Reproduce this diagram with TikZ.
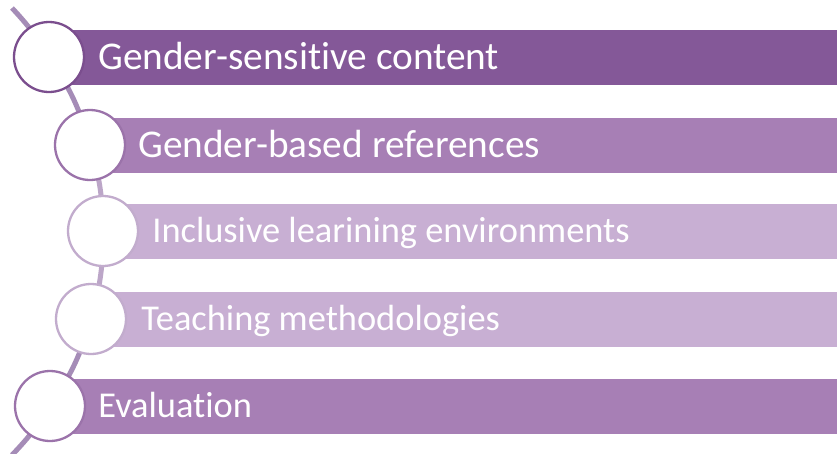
\documentclass[tikz,border=0pt]{standalone}
\usepackage{fontspec}
\setmainfont{Carlito}[Ligatures=NoCommon]
\usetikzlibrary{positioning}
\definecolor{barDark}{RGB}{132,88,152}
\definecolor{barMid}{RGB}{167,127,181}
\definecolor{barLight}{RGB}{200,175,211}
\definecolor{rimDark}{RGB}{123,78,142}
\definecolor{rimMid}{RGB}{155,115,170}
\definecolor{rimLight}{RGB}{194,172,205}
\definecolor{spineDark}{RGB}{165,140,183}
\definecolor{spineLight}{RGB}{188,166,200}
\tikzset{
  stepcircle/.style={
    circle,
    draw,
    fill=white,
    line width=2.3pt,
    minimum size=70pt,
    inner sep=0pt
  },
  bar/.style={
    rectangle,
    anchor=west,
    minimum height=55pt,
    inner sep=0pt
  },
  itemtext/.style={
    text=white,
    inner sep=0pt,
    text depth=0pt,
    text height=25pt,
    font=\fontsize{39.3}{41}\selectfont
  },
  smalltext/.style={
    itemtext,
    text height=23.5pt,
    font=\fontsize{36.4}{38}\selectfont
  },
  spine/.style={
    line width=5pt
  }
}

\begin{document}
\begin{tikzpicture}[x=1pt, y=-1pt]
        \fill[white] (0,0) rectangle (837,453);
        \useasboundingbox (0,0) rectangle (837,453);

        % points on the arc
        \coordinate (top) at (12,8);
        \coordinate (p1) at (49,57);
        \coordinate (p2) at (90,145);
        \coordinate (p3) at (103,231);
        \coordinate (p4) at (91,319);
        \coordinate (p5) at (50,406);
        \coordinate (bot) at (12,455);

        \draw[spine, draw=spineDark] (top) to[bend left=6] (p1);
        \draw[spine, draw=spineDark] (p1) to[bend left=9] (p2);
        \draw[spine, draw=spineLight] (p2) to[bend left=8] (p3);
        \draw[spine, draw=spineLight] (p3) to[bend left=8] (p4);
        \draw[spine, draw=spineDark] (p4) to[bend left=9] (p5);
        \draw[spine, draw=spineDark] (p5) to[bend left=6] (bot);

        \node[bar, fill=barDark, minimum width=788] (b1) at (p1) {};
        \node[bar, fill=barMid, minimum width=747] (b2) at (p2) {};
        \node[bar, fill=barLight, minimum width=734] (b3) at (p3) {};
        \node[bar, fill=barLight, minimum width=746] (b4) at (p4) {};
        \node[bar, fill=barMid, minimum width=787] (b5) at (p5) {};

        \node[stepcircle, draw=rimDark] (c1) at (p1) {};
        \node[stepcircle, draw=rimMid] (c2) at (p2) {};
        \node[stepcircle, draw=rimLight] (c3) at (p3) {};
        \node[stepcircle, draw=rimLight] (c4) at (p4) {};
        \node[stepcircle, draw=rimMid] (c5) at (p5) {};

        \node[itemtext, right=13pt of c1] (t1) {Gender-sensitive content};
        \node[itemtext, right=12pt of c2] (t2) {Gender-based references};
        \node[smalltext, right=13pt of c3] (t3) {Inclusive learining environments};
        \node[smalltext, right=14pt of c4] (t4) {Teaching methodologies};
        \node[smalltext, right=12pt of c5] (t5) {Evaluation};
      \end{tikzpicture}
\end{document}
